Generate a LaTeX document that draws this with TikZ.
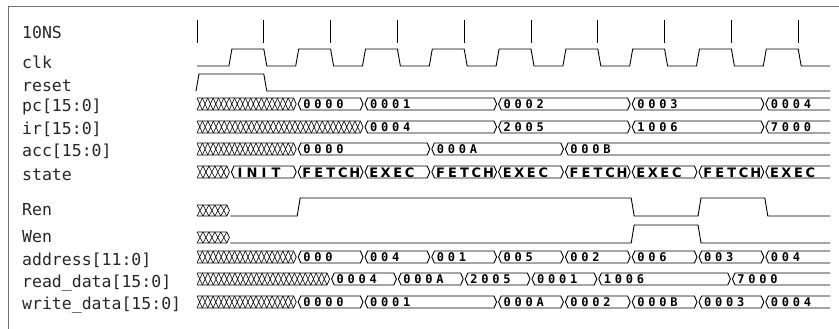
\documentclass[tikz,border=0pt]{standalone}
\usepackage{fontspec}
\newfontfamily\labfont{DejaVu Sans Mono}
\newfontfamily\valfont{DejaVu Sans Mono}
\newfontfamily\stfont{DejaVu Sans}
\makeatletter
\newcommand\wvspread[2]{\def\wvs@w{#1}\wvs@loop#2\relax}
\def\wvs@loop#1{\ifx\relax#1\else\makebox[\wvs@w][c]{#1}\expandafter\wvs@loop\fi}
\makeatother
\tikzset{
  wv/.style={line width=0.9pt, black, line join=miter},
  frameline/.style={line width=1pt, black!55},
  lab/.style={anchor=base west, inner sep=0pt, font=\labfont\fontsize{16.5}{18}\selectfont, text=black!85},
  val/.style={anchor=west, inner sep=0pt, font=\valfont\bfseries\fontsize{12}{13}\selectfont},
  stv/.style={anchor=west, inner sep=0pt, font=\stfont\bfseries\fontsize{13}{14}\selectfont},
}
% x of half-period index
\newcommand\hx[1]{197+33.4*(#1)}
% bus segment: name, ytop, ybot, h1, h2, text
\newcommand\busseg[6]{%
  \pgfmathsetmacro\xa{\hx{#4}+1}\pgfmathsetmacro\xb{\hx{#5}-1}%
  \pgfmathsetmacro\ym{(#2+#3)/2}%
  \draw[wv] (\xa,\ym) -- (\xa+2.6,#2) -- (\xb-2.6,#2) -- (\xb,\ym) -- (\xb-2.6,#3) -- (\xa+2.6,#3) -- cycle;
  \node[val] (#1) at (\xa+3,\ym+0.4) {\wvspread{11pt}{#6}};}
% last (open) bus segment
\newcommand\buslast[5]{%
  \pgfmathsetmacro\xa{\hx{#4}+1}%
  \pgfmathsetmacro\ym{(#2+#3)/2}%
  \draw[wv] (830,#2) -- (\xa+2.6,#2) -- (\xa,\ym) -- (\xa+2.6,#3) -- (830,#3);
  \node[val] (#1) at (\xa+3,\ym+0.4) {\wvspread{11pt}{#5}};}
% state segments
\newcommand\stseg[6]{%
  \pgfmathsetmacro\xa{\hx{#4}+1}\pgfmathsetmacro\xb{\hx{#5}-1}%
  \pgfmathsetmacro\ym{(#2+#3)/2}%
  \draw[wv] (\xa,\ym) -- (\xa+2.6,#2) -- (\xb-2.6,#2) -- (\xb,\ym) -- (\xb-2.6,#3) -- (\xa+2.6,#3) -- cycle;
  \node[stv] (#1) at (\xa+2.5,\ym+0.4) {\wvspread{12pt}{#6}};}
\newcommand\stlast[5]{%
  \pgfmathsetmacro\xa{\hx{#4}+1}%
  \pgfmathsetmacro\ym{(#2+#3)/2}%
  \draw[wv] (830,#2) -- (\xa+2.6,#2) -- (\xa,\ym) -- (\xa+2.6,#3) -- (830,#3);
  \node[stv] (#1) at (\xa+2.5,\ym+0.4) {\wvspread{12pt}{#5}};}
% hatched (unknown) region: ytop, ybot, h2
\newcommand\hatch[3]{%
  \pgfmathsetmacro\xb{\hx{#3}-1}%
  \pgfmathsetmacro\xe{\xb-2.6}%
  \pgfmathsetmacro\ym{(#1+#2)/2}%
  \pgfmathtruncatemacro\nn{round((\xe-197)/5.5)}%
  \pgfmathsetmacro\st{(\xe-197)/\nn}%
  \draw[wv, line width=0.7pt] (197,#1) -- (\xe,#1) -- (\xb,\ym) -- (\xe,#2) -- (197,#2);
  \foreach \k in {1,...,\nn}{%
    \draw[wv, line width=0.6pt] ({197+(\k-1)*\st},#1) -- ({197+\k*\st},#2)
      ({197+(\k-1)*\st},#2) -- ({197+\k*\st},#1);}}
\begin{document}
\begin{tikzpicture}[x=1pt,y=-1pt]
\useasboundingbox (0,0) rectangle (839,329);
% frame
\draw[frameline] (8,340) -- (8,7) -- (845,7);
% labels
\node[lab] (l10ns) at (22,39) {10NS};
\node[lab] (lclk) at (22,69) {clk};
\node[lab] (lreset) at (22,92) {reset};
\node[lab] (lpc) at (22,112) {pc[15:0]};
\node[lab] (lir) at (22,135) {ir[15:0]};
\node[lab] (lacc) at (22,157) {acc[15:0]};
\node[lab] (lstate) at (22,180) {state};
\node[lab] (lren) at (22,215) {Ren};
\node[lab] (lwen) at (22,242) {Wen};
\node[lab] (laddr) at (22,265) {address[11:0]};
\node[lab] (lrd) at (22,287) {read\_data[15:0]};
\node[lab] (lwd) at (22,309) {write\_data[15:0]};
% 10ns ticks
\foreach \k in {0,...,9}{\draw[wv] ({197+66.8*\k},20) -- ({197+66.8*\k},43);}
% clock
\draw[wv] (197,66)
  \foreach \k in {0,...,8}{ -- ({\hx{2*\k+1}-1.5},66) -- ({\hx{2*\k+1}+1.5},49) -- ({\hx{2*\k+2}},49) -- ({\hx{2*\k+2}+3},66)} -- (830,66);
% reset
\draw[wv] (196,91) -- (199,74) -- ({\hx{2}},74) -- ({\hx{2}+3},91) -- (830,91);
% pc
\hatch{98}{110}{3}
\busseg{pc1}{98}{110}{3}{5}{0000}
\busseg{pc2}{98}{110}{5}{9}{0001}
\busseg{pc3}{98}{110}{9}{13}{0002}
\busseg{pc4}{98}{110}{13}{17}{0003}
\buslast{pc5}{98}{110}{17}{0004}
% ir
\hatch{121}{133}{5}
\busseg{ir1}{121}{133}{5}{9}{0004}
\busseg{ir2}{121}{133}{9}{13}{2005}
\busseg{ir3}{121}{133}{13}{17}{1006}
\buslast{ir4}{121}{133}{17}{7000}
% acc
\hatch{143}{155}{3}
\busseg{acc1}{143}{155}{3}{7}{0000}
\busseg{acc2}{143}{155}{7}{11}{000A}
\buslast{acc3}{143}{155}{11}{000B}
% state
\hatch{166}{178}{1}
\stseg{st0}{166}{178}{1}{3}{INIT}
\stseg{st1}{166}{178}{3}{5}{FETCH}
\stseg{st2}{166}{178}{5}{7}{EXEC}
\stseg{st3}{166}{178}{7}{9}{FETCH}
\stseg{st4}{166}{178}{9}{11}{EXEC}
\stseg{st5}{166}{178}{11}{13}{FETCH}
\stseg{st6}{166}{178}{13}{15}{EXEC}
\stseg{st7}{166}{178}{15}{17}{FETCH}
\stlast{st8}{166}{178}{17}{EXEC}
% Ren
\hatch{205}{216}{1}
\draw[wv] ({\hx{1}},216) -- ({\hx{3}},216) -- ({\hx{3}+3},198) -- ({\hx{13}},198) -- ({\hx{13}+3},216)
  -- ({\hx{15}},216) -- ({\hx{15}+3},198) -- ({\hx{17}},198) -- ({\hx{17}+3},216) -- (830,216);
% Wen
\hatch{232}{243}{1}
\draw[wv] ({\hx{1}},243) -- ({\hx{13}},243) -- ({\hx{13}+3},225) -- ({\hx{15}},225) -- ({\hx{15}+3},243) -- (830,243);
% address
\hatch{251}{263}{3}
\busseg{ad1}{251}{263}{3}{5}{000}
\busseg{ad2}{251}{263}{5}{7}{004}
\busseg{ad3}{251}{263}{7}{9}{001}
\busseg{ad4}{251}{263}{9}{11}{005}
\busseg{ad5}{251}{263}{11}{13}{002}
\busseg{ad6}{251}{263}{13}{15}{006}
\busseg{ad7}{251}{263}{15}{17}{003}
\buslast{ad8}{251}{263}{17}{004}
% read_data
\hatch{273}{285}{4}
\busseg{rd1}{273}{285}{4}{6}{0004}
\busseg{rd2}{273}{285}{6}{8}{000A}
\busseg{rd3}{273}{285}{8}{10}{2005}
\busseg{rd4}{273}{285}{10}{12}{0001}
\busseg{rd5}{273}{285}{12}{16}{1006}
\buslast{rd6}{273}{285}{16}{7000}
% write_data
\hatch{296}{308}{3}
\busseg{wd1}{296}{308}{3}{5}{0000}
\busseg{wd2}{296}{308}{5}{9}{0001}
\busseg{wd3}{296}{308}{9}{11}{000A}
\busseg{wd4}{296}{308}{11}{13}{0002}
\busseg{wd5}{296}{308}{13}{15}{000B}
\busseg{wd6}{296}{308}{15}{17}{0003}
\buslast{wd7}{296}{308}{17}{0004}
\end{tikzpicture}
\end{document}
